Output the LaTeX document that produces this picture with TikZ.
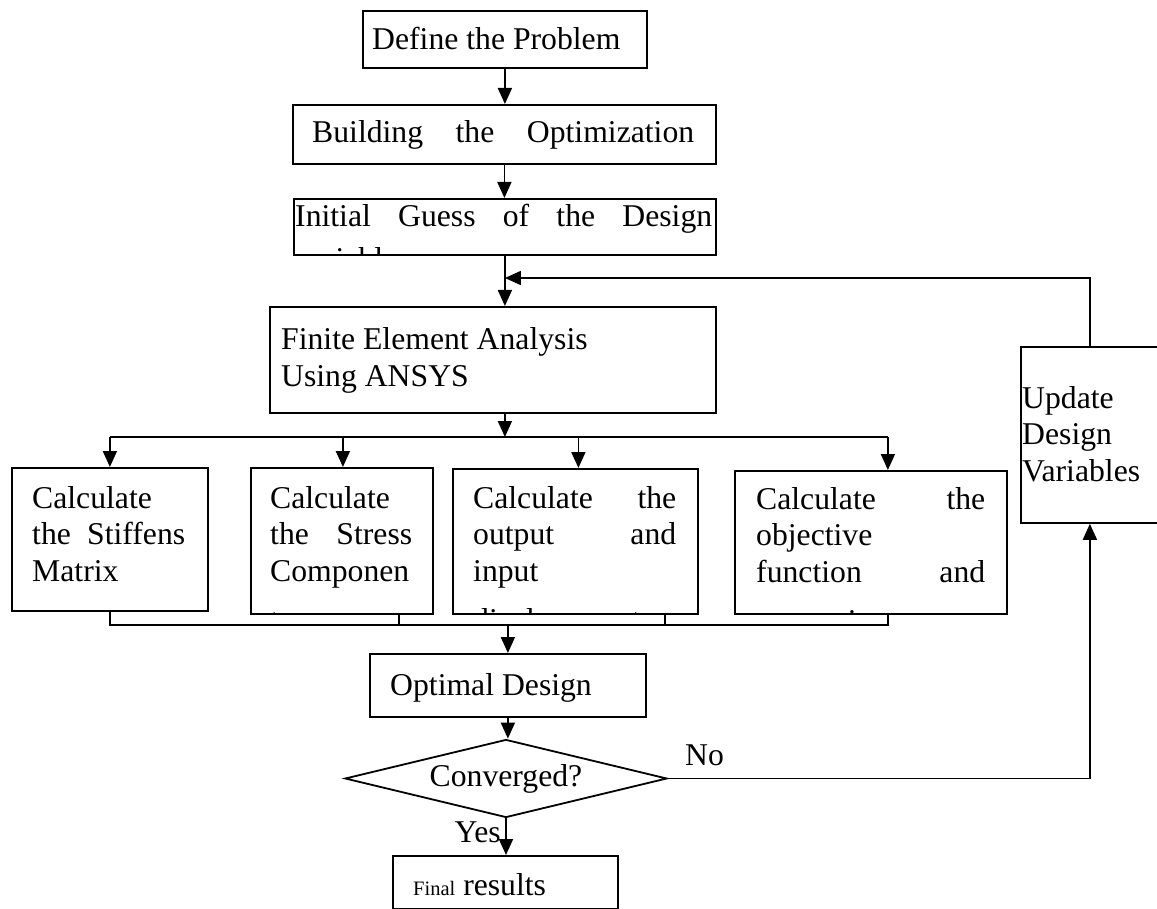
\documentclass[tikz,border=0pt]{standalone}
\usepackage{fontspec}
\setmainfont{Liberation Serif}
\usetikzlibrary{arrows.meta, calc, shapes.geometric}

\tikzset{
  boxed/.style={draw, line width=1.8pt, inner sep=0pt, anchor=north west},
  txt/.style={anchor=base west, inner sep=0pt, font=\fontsize{31.7}{36.7}\selectfont},
  arr/.style={-{Triangle[length=16pt, width=14pt]}, line width=1.8pt},
  ln/.style={line width=1.8pt}
}

\begin{document}
\begin{tikzpicture}[x=1pt, y=-1pt]
\useasboundingbox (0,0) rectangle (1157,909);

% main column
\node[boxed, minimum width=284pt, minimum height=57pt] (define) at (362,10) {};
\node[txt] (t-define) at (372,50) {Define the Problem};
\node[boxed, minimum width=423pt, minimum height=59pt] (build) at (292,104) {};
\node[txt] (t-build) at (312,143) {\parbox[t]{382pt}{Building\hfill the\hfill Optimization}};
\node[boxed, minimum width=422pt, minimum height=56pt] (guess) at (293,198) {};
\begin{scope}
  \clip (guess.north west) rectangle (guess.south east);
  \node[txt] (t-guess) at (295,227) {\parbox[t]{417pt}{Initial\hfill Guess\hfill of\hfill the\hfill Design\\[6pt] variables}};
\end{scope}
\node[boxed, minimum width=446pt, minimum height=106pt] (fe) at (269,306) {};
\node[txt] (t-fe) at (281,350) {\parbox[t]{420pt}{Finite Element Analysis\\ Using ANSYS}};

% the four calculations
\node[boxed, minimum width=196pt, minimum height=143pt] (b1) at (11,467) {};
\node[txt] (t-b1) at (32,508) {\parbox[t]{153pt}{Calculate\\ the\hfill Stiffens\\ Matrix}};
\node[boxed, minimum width=182pt, minimum height=146pt] (b2) at (250,467) {};
\node[boxed, minimum width=245pt, minimum height=145pt] (b3) at (452,468) {};
\node[boxed, minimum width=272pt, minimum height=143pt] (b4) at (734,470) {};
\begin{scope}
  \clip (b2.north west) rectangle (b2.south east);
  \node[txt] (t-b2) at (270,508) {\parbox[t]{142pt}{Calculate\\ the\hfill Stress\\ Componen\\[12pt] ts}};
\end{scope}
\begin{scope}
  \clip (b3.north west) rectangle (b3.south east);
  \node[txt] (t-b3) at (473,508) {\parbox[t]{203pt}{Calculate\hfill the\\ output\hfill and\\ input\\[12pt] displacement}};
\end{scope}
\begin{scope}
  \clip (b4.north west) rectangle (b4.south east);
  \node[txt] (t-b4) at (756,509) {\parbox[t]{229pt}{Calculate\hfill the\\ objective\\ function\hfill and\\[12pt] constraints}};
\end{scope}

\node[boxed, minimum width=276pt, minimum height=63pt] (optimal) at (369,653) {};
\node[txt] (t-optimal) at (390,695) {Optimal Design};
\node[draw, diamond, aspect=4.13, minimum width=322pt, minimum height=78pt, inner sep=0pt,
      line width=1.8pt, font=\fontsize{31.7}{36.7}\selectfont] (conv) at (506,778.5) {Converged?};
\node[boxed, minimum width=225pt, minimum height=53pt] (final) at (392,855) {};
\node[txt] (t-final) at (413,895) {{\fontsize{20.5}{24}\selectfont Final} results};

% loop back
\node[boxed, minimum width=138pt, minimum height=176pt] (update) at (1020,346) {};
\node[txt] (t-update) at (1022,408) {\parbox[t]{130pt}{Update\\ Design\\ Variables}};

\node[txt] (no) at (685,765) {No};
\node[txt, anchor=base east] (yes) at (501,842) {Yes};

% connectors
\coordinate (merge) at (guess.south |- 0,278);
\coordinate (bus) at (guess.south |- 0,437);
\coordinate (col) at (optimal.north |- 0,625);
\draw[arr] (define.south) -- (define.south |- build.north);
\draw[arr] (build.south) -- (build.south |- guess.north);
\draw[arr] (guess.south) -- (guess.south |- fe.north);
\draw[arr] (update.north) |- (merge);
\draw[arr] (guess.south |- fe.south) -- (bus);
\draw[ln] (b1.north |- bus) -- ([xshift=17pt]b4.north |- bus);
\foreach \b/\dx in {b1/0, b2/1, b3/3, b4/17}
  \draw[arr] ([xshift=\dx pt]\b.north |- bus) -- ([xshift=\dx pt]\b.north);
\draw[ln] (b1.south) -- (b1.south |- col) -- ([xshift=17pt]b4.south |- col) -- ([xshift=17pt]b4.south);
\draw[ln] ([xshift=-35pt]b2.south east) -- ([xshift=-35pt]b2.south east |- col);
\draw[ln] ([xshift=-34pt]b3.south east) -- ([xshift=-34pt]b3.south east |- col);
\draw[arr] (col) -- (optimal.north);
\draw[arr] (optimal.south) -- (optimal.south |- conv.north);
\draw[arr] (conv.east) -| (update.south);
\draw[arr] (conv.south) -- (conv.south |- final.north);
\end{tikzpicture}
\end{document}
